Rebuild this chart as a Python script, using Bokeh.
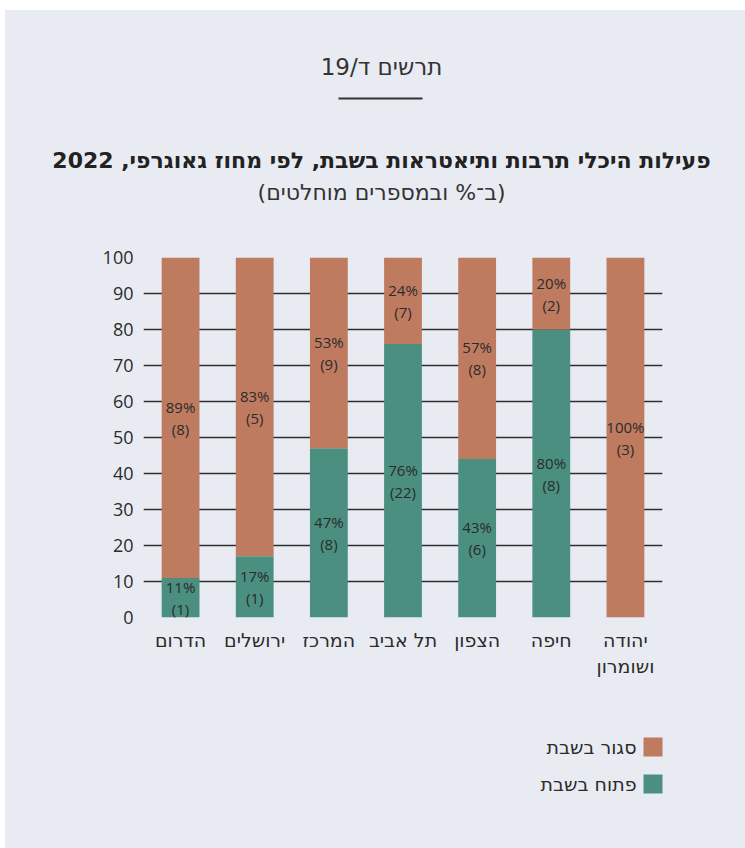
from bokeh.plotting import figure
from bokeh.models import ColumnDataSource, FixedTicker, Range1d
from bokeh.layouts import column
from bokeh.core.properties import value
from bokeh.embed import file_html
from bokeh.resources import INLINE

# ---- data ----
regions = ["הדרום", "ירושלים", "המרכז", "תל אביב", "הצפון", "חיפה", "יהודה\nושומרון"]
open_pct = [11, 17, 47, 76, 44, 80, 0]
closed_pct = [89, 83, 53, 24, 56, 20, 100]
open_labels = ["11%", "17%", "47%", "76%", "43%", "80%", ""]
closed_labels = ["89%", "83%", "53%", "24%", "57%", "20%", "100%"]
open_counts = ["(1)", "(1)", "(8)", "(22)", "(6)", "(8)", ""]
closed_counts = ["(8)", "(5)", "(9)", "(7)", "(8)", "(2)", "(3)"]
y_ticks = [0, 10, 20, 30, 40, 50, 60, 70, 80, 90, 100]
series_names = ["פתוח בשבת", "סגור בשבת"]

chart_label = "תרשים ד/19"
title_text = "פעילות היכלי תרבות ותיאטראות בשבת, לפי מחוז גאוגרפי, 2022"
subtitle_text = "(ב־% ובמספרים מוחלטים)"

GREEN = "#4a8f7f"
ORANGE = "#bf7b60"
BG = "#e8ebf2"
TXT = "#2b2b2b"
NUMFONT = "Open Sans"
HEBFONT = "DejaVu Sans"
W = 740


def blank(h):
    f = figure(width=W, height=h, x_range=Range1d(0, W), y_range=Range1d(h, 0),
               output_backend="svg", toolbar_location=None,
               min_border=0, x_axis_type=None, y_axis_type=None)
    f.background_fill_color = BG
    f.border_fill_color = BG
    f.outline_line_color = None
    f.grid.visible = False
    if "frame_align" in f.properties():
        f.frame_align = False
    return f


# ---- header ----
head = blank(220)
head.text(x=[376], y=[56], text=[chart_label], text_align="center", text_baseline="middle",
          text_font=value(HEBFONT), text_font_size="23px", text_color="#333333")
head.segment(x0=[333], x1=[417], y0=[88], y1=[88], line_color="#333333", line_width=2)
head.text(x=[376], y=[150], text=[title_text], text_align="center", text_baseline="middle",
          text_font=value(HEBFONT), text_font_style="bold", text_font_size="22px",
          text_color="#222222")
head.text(x=[376], y=[182], text=[subtitle_text], text_align="center", text_baseline="middle",
          text_font=value(HEBFONT), text_font_size="22px", text_color="#333333")

# ---- main chart ----
src = ColumnDataSource(dict(
    region=regions,
    open=open_pct,
    closed=closed_pct,
    open_mid=[o / 2 for o in open_pct],
    closed_mid=[o + c / 2 for o, c in zip(open_pct, closed_pct)],
    open_lab=open_labels,
    closed_lab=closed_labels,
    open_cnt=open_counts,
    closed_cnt=closed_counts,
))

p = figure(width=W, height=460, x_range=regions, y_range=Range1d(0, 100),
           output_backend="svg", toolbar_location=None,
           min_border_left=138, min_border_right=83,
           min_border_top=27, min_border_bottom=73)
p.background_fill_color = BG
p.border_fill_color = BG
p.outline_line_color = None
p.x_range.range_padding = 0
if "frame_align" in p.properties():
    p.frame_align = False

p.vbar_stack(["open", "closed"], x="region", width=0.51, source=src,
             color=[GREEN, ORANGE], line_color=None)

for ycol, lab, off in [("open_mid", "open_lab", -11), ("open_mid", "open_cnt", 11),
                       ("closed_mid", "closed_lab", -11), ("closed_mid", "closed_cnt", 11)]:
    p.text(x="region", y=ycol, text=lab, source=src, text_align="center",
           text_baseline="middle", y_offset=off, text_font=value(NUMFONT),
           text_font_size="15px", text_color=TXT)

p.yaxis.ticker = FixedTicker(ticks=y_ticks)
p.yaxis.axis_line_color = None
p.yaxis.major_tick_line_color = None
p.yaxis.minor_tick_line_color = None
p.yaxis.major_label_standoff = 4
p.yaxis.major_label_text_font = NUMFONT
p.yaxis.major_label_text_font_size = "18px"
p.yaxis.major_label_text_color = TXT

p.xaxis.axis_line_color = None
p.xaxis.major_tick_line_color = None
p.xaxis.major_label_standoff = 5
p.xaxis.major_label_text_font = HEBFONT
p.xaxis.major_label_text_font_size = "19px"
p.xaxis.major_label_text_color = TXT

p.xgrid.grid_line_color = None
p.ygrid.grid_line_color = "#2e2e2e"
p.ygrid.grid_line_width = 1.5
p.ygrid.level = "underlay"

# ---- legend (RTL: text to the left of swatch) ----
leg = blank(158)
leg_y = [56.5, 93.5]
leg_names = [series_names[1], series_names[0]]
leg_cols = [ORANGE, GREEN]
leg.rect(x=[647.5, 647.5], y=leg_y, width=19, height=19, fill_color=leg_cols, line_color=None)
leg.text(x=[631, 631], y=leg_y, text=leg_names, text_align="right", text_baseline="middle",
         text_font=value(HEBFONT), text_font_size="19px", text_color=TXT)

layout = column(head, p, leg, spacing=0)
layout.styles = {"background-color": BG, "margin-left": "5px", "margin-top": "10px"}
open("out.html", "w").write(file_html(layout, INLINE))
